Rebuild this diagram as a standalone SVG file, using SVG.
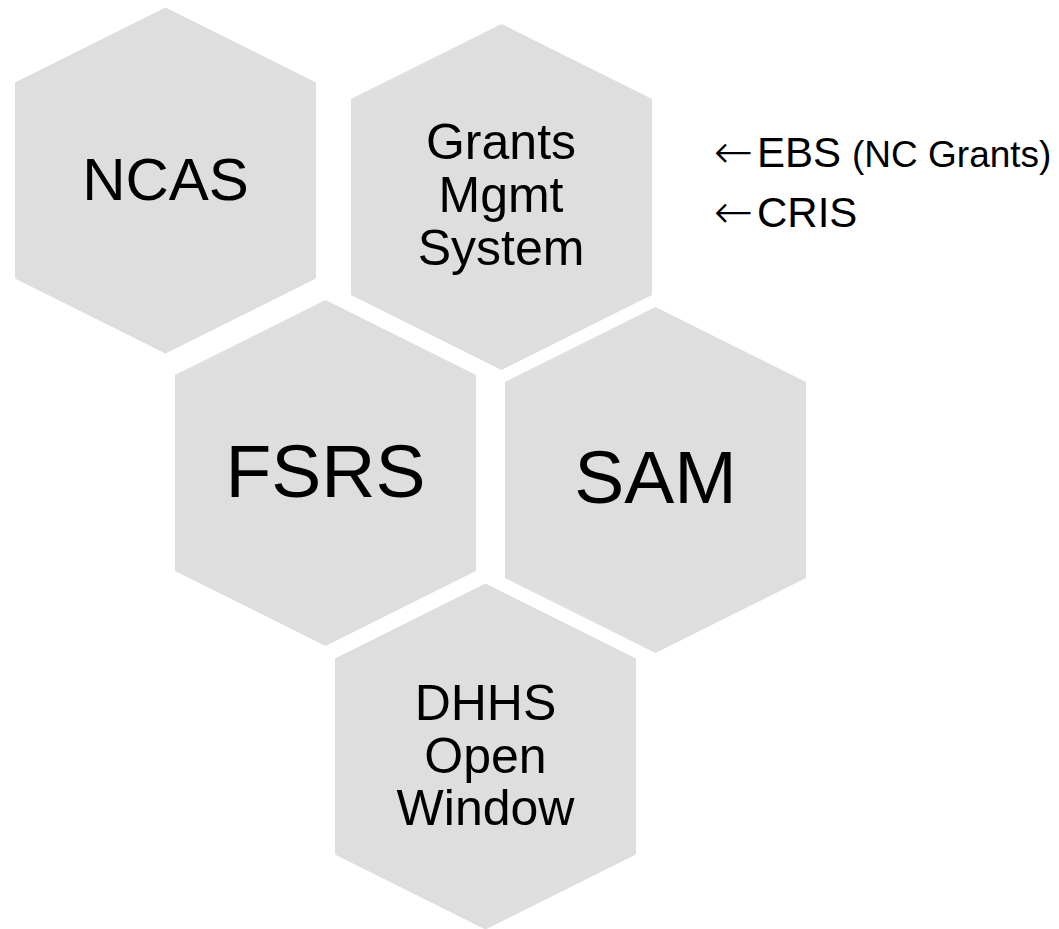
<svg xmlns="http://www.w3.org/2000/svg" width="1059" height="929" viewBox="0 0 1059 929">
<style>
.hex{fill:#dedede}
.t{font-family:"Liberation Sans",Arial,sans-serif;fill:#000;text-anchor:middle}
.side{font-family:"Liberation Sans",Arial,sans-serif;fill:#000}
.arr{font-family:"DejaVu Sans ExtraLight","DejaVu Sans",sans-serif;font-weight:200;font-size:47px}
</style>
<defs>
<polygon id="hexshape" points="0,-173 150.5,-98 150.5,98 0,173 -150.5,98 -150.5,-98"/>
</defs>
<rect width="1059" height="929" fill="#fff"/>
<g id="connectors"></g>
<g id="ncas">
<use href="#hexshape" class="hex" x="165.5" y="180.5"/>
<text class="t" x="165.5" y="200" font-size="60">NCAS</text>
</g>
<g id="grants">
<use href="#hexshape" class="hex" x="501.5" y="197"/>
<text class="t" font-size="50"><tspan x="501" y="159">Grants</tspan><tspan x="501" y="212">Mgmt</tspan><tspan x="501" y="265">System</tspan></text>
</g>
<g id="fsrs">
<use href="#hexshape" class="hex" x="325.5" y="473"/>
<text class="t" x="325.5" y="497" font-size="75">FSRS</text>
</g>
<g id="sam">
<use href="#hexshape" class="hex" x="655.5" y="480"/>
<text class="t" x="655.5" y="503" font-size="75">SAM</text>
</g>
<g id="dhhs">
<use href="#hexshape" class="hex" x="485.5" y="756.5"/>
<text class="t" font-size="50"><tspan x="485.5" y="720">DHHS</tspan><tspan x="485.5" y="773">Open</tspan><tspan x="485.5" y="825">Window</tspan></text>
</g>
<g id="sources">
<text class="side" font-size="42"><tspan class="arr" x="714" y="168">←</tspan><tspan x="757" y="167">EBS</tspan><tspan x="852" y="167" font-size="37">(NC Grants)</tspan></text>
<text class="side" font-size="42"><tspan class="arr" x="714" y="228">←</tspan><tspan x="757" y="227">CRIS</tspan></text>
</g>
</svg>
